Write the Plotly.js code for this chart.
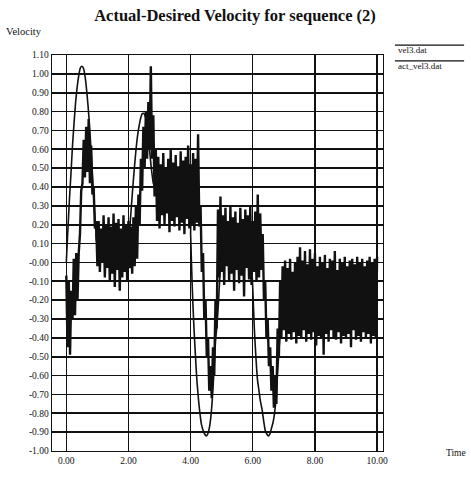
<!DOCTYPE html>
<html>
<head>
<meta charset="utf-8">
<script src="https://cdn.plot.ly/plotly-3.0.1.min.js"></script>
<style>html,body{margin:0;padding:0;background:#fff;}#chart{width:471px;height:477px;}</style>
</head>
<body>
<div id="chart"></div>
<script>
// Desired velocity (vel3.dat): time / value pairs
var desiredTime = [0, 0.05, 0.1, 0.15, 0.2, 0.25, 0.3, 0.35, 0.4, 0.45, 0.5, 0.55, 0.6, 0.65, 0.7, 0.75, 0.8, 0.85, 0.9, 0.95, 1.0,
  2.0, 2.05, 2.1, 2.15, 2.2, 2.25, 2.3, 2.35, 2.4, 2.45, 2.5, 2.55, 2.6, 2.65, 2.7, 2.75, 2.8, 2.85,
  3.95, 4.0, 4.05, 4.1, 4.15, 4.2, 4.25, 4.3, 4.35, 4.4, 4.45, 4.5, 4.55, 4.6, 4.65, 4.7, 4.75, 4.8, 4.85, 4.9, 4.95, 5.0, 5.05,
  5.9, 5.95, 6.0, 6.05, 6.1, 6.15, 6.2, 6.25, 6.3, 6.35, 6.4, 6.45, 6.5, 6.55, 6.6, 6.65, 6.7, 6.75, 6.8, 6.85, 6.9, 6.95, 7.0, 10.0];
var desiredVel = [0.0, 0.17, 0.33, 0.47, 0.62, 0.74, 0.85, 0.93, 0.99, 1.03, 1.04, 1.03, 0.99, 0.92, 0.83, 0.72, 0.58, 0.44, 0.30, 0.17, 0.10,
  0.10, 0.20, 0.31, 0.42, 0.52, 0.61, 0.68, 0.73, 0.77, 0.79, 0.79, 0.77, 0.72, 0.65, 0.56, 0.48, 0.42, 0.40,
  0.40, 0.15, -0.12, -0.32, -0.48, -0.62, -0.72, -0.80, -0.86, -0.89, -0.91, -0.92, -0.91, -0.88, -0.82, -0.72, -0.58, -0.42, -0.33, -0.20, -0.05, 0.06, 0.10,
  0.10, 0.02, -0.14, -0.35, -0.50, -0.62, -0.68, -0.74, -0.78, -0.84, -0.89, -0.91, -0.92, -0.91, -0.88, -0.85, -0.80, -0.72, -0.58, -0.45, -0.33, -0.24, -0.20, -0.20];

// Actual velocity (act_vel3.dat): one sample every 0.04 s
var actualStep = 0.04;
var actualVel = [
  -0.07, -0.45, -0.10, -0.49, -0.15, -0.30, 0.02, -0.28, 0.05, -0.20,
  0.05, 0.15, 0.38, 0.42, 0.65, 0.45, 0.72, 0.48, 0.76, 0.42,
  0.62, 0.36, 0.40, 0.18, 0.22, -0.02, 0.22, -0.05, 0.18, 0.00,
  0.25, -0.08, 0.20, -0.03, 0.24, -0.10, 0.19, -0.06, 0.26, -0.13,
  0.21, -0.04, 0.23, -0.15, 0.18, -0.08, 0.25, -0.05, 0.20, -0.10,
  0.22, -0.03, 0.19, -0.06, 0.24, -0.02, 0.30, 0.02, 0.36, 0.20,
  0.55, 0.38, 0.72, 0.50, 0.80, 0.55, 0.85, 0.60, 1.04, 0.55,
  0.78, 0.35, 0.60, 0.22, 0.56, 0.18, 0.52, 0.25, 0.58, 0.20,
  0.50, 0.26, 0.55, 0.16, 0.60, 0.22, 0.53, 0.19, 0.57, 0.24,
  0.51, 0.17, 0.59, 0.21, 0.54, 0.15, 0.56, 0.23, 0.62, 0.18,
  0.52, 0.20, 0.58, 0.17, 0.55, 0.21, 0.68, 0.19, 0.30, -0.05,
  0.05, -0.30, -0.20, -0.50, -0.40, -0.68, -0.55, -0.72, -0.45, -0.60,
  -0.20, -0.35, 0.28, -0.08, 0.35, -0.05, 0.25, -0.12, 0.29, -0.02,
  0.22, -0.10, 0.30, -0.06, 0.24, -0.15, 0.27, -0.04, 0.21, -0.11,
  0.29, -0.07, 0.23, -0.18, 0.28, -0.03, 0.25, -0.09, 0.30, -0.12,
  0.22, -0.05, 0.27, -0.10, 0.36, -0.08, 0.26, -0.04, 0.15, -0.20,
  -0.10, -0.40, -0.30, -0.55, -0.45, -0.68, -0.55, -0.77, -0.60, -0.75,
  -0.35, -0.50, -0.10, -0.40, -0.02, -0.36, 0.01, -0.42, -0.03, -0.38,
  0.02, -0.41, -0.05, -0.37, 0.00, -0.43, 0.03, -0.39, 0.08, -0.40,
  0.01, -0.36, 0.06, -0.42, -0.01, -0.38, 0.07, -0.41, 0.02, -0.37,
  0.05, -0.44, -0.02, -0.39, 0.03, -0.40, 0.00, -0.49, 0.04, -0.38,
  -0.03, -0.42, 0.02, -0.36, 0.01, -0.40, 0.06, -0.41, -0.04, -0.37,
  0.02, -0.43, 0.00, -0.39, 0.03, -0.40, -0.02, -0.38, 0.01, -0.45,
  0.02, -0.36, -0.01, -0.41, 0.03, -0.39, 0.00, -0.42, 0.02, -0.37,
  -0.02, -0.40, 0.01, -0.38, 0.03, -0.43, 0.00, -0.39, 0.02, -0.40,
  0.03];

var xTickVals = [0, 2, 4, 6, 8, 10];
var xTickText = ["0.00", "2.00", "4.00", "6.00", "8.00", "10.00"];
var yTickVals = [1.1, 1.0, 0.9, 0.8, 0.7, 0.6, 0.5, 0.4, 0.3, 0.2, 0.1, 0.0, -0.1, -0.2, -0.3, -0.4, -0.5, -0.6, -0.7, -0.8, -0.9, -1.0];
var yTickText = ["1.10", "1.00", "0.90", "0.80", "0.70", "0.60", "0.50", "0.40", "0.30", "0.20", "0.10", "-0.00", "-0.10", "-0.20", "-0.30", "-0.40", "-0.50", "-0.60", "-0.70", "-0.80", "-0.90", "-1.00"];
var seriesNames = ["vel3.dat", "act_vel3.dat"];

var actualTime = actualVel.map(function (v, i) { return +(i * actualStep).toFixed(2); });

var font = "Liberation Serif, Times New Roman, serif";

var traces = [
  { x: actualTime, y: actualVel, type: "scatter", mode: "lines", name: seriesNames[1],
    line: { color: "#111", width: 2.4 } },
  { x: desiredTime, y: desiredVel, type: "scatter", mode: "lines", name: seriesNames[0],
    line: { color: "#111", width: 1.6, shape: "spline", smoothing: 0.6 } }
];

var layout = {
  width: 471, height: 477,
  margin: { l: 52, r: 88, t: 55, b: 26 },
  paper_bgcolor: "#fff", plot_bgcolor: "#fff",
  showlegend: false,
  title: { text: "<b>Actual-Desired Velocity for sequence (2)</b>", x: 0.499, xref: "container", xanchor: "center",
    y: 0.968, yref: "container", yanchor: "middle", font: { family: font, size: 16.5, color: "#111" } },
  xaxis: { range: [-0.46, 10.19], tickvals: xTickVals, ticktext: xTickText, showgrid: true, gridcolor: "#111", gridwidth: 1.4,
    zeroline: false, showline: true, mirror: true, linecolor: "#111", linewidth: 1.4, ticks: "",
    tickfont: { family: font, size: 9.5, color: "#111" } },
  yaxis: { range: [-1.0, 1.1], tickvals: yTickVals, ticktext: yTickText, showgrid: true, gridcolor: "#111", gridwidth: 1.8,
    zeroline: false, showline: true, mirror: true, linecolor: "#111", linewidth: 1.4, ticks: "",
    tickfont: { family: font, size: 9.5, color: "#111" } },
  shapes: [
    { type: "line", xref: "paper", yref: "paper", x0: 1.036, x1: 1.245, y0: 1.025, y1: 1.025, line: { color: "#111", width: 1.2 } },
    { type: "line", xref: "paper", yref: "paper", x0: 1.036, x1: 1.245, y0: 0.985, y1: 0.985, line: { color: "#111", width: 1.2 } }
  ],
  annotations: [
    { text: seriesNames[0], xref: "paper", yref: "paper", x: 1.038, y: 1.012, xanchor: "left", yanchor: "middle", showarrow: false,
      font: { family: font, size: 9, color: "#111" } },
    { text: seriesNames[1], xref: "paper", yref: "paper", x: 1.038, y: 0.971, xanchor: "left", yanchor: "middle", showarrow: false,
      font: { family: font, size: 9, color: "#111" } },
    { text: "Velocity", xref: "paper", yref: "paper", x: -0.145, y: 1.06, xanchor: "left", yanchor: "middle", showarrow: false,
      font: { family: font, size: 10.5, color: "#111" } },
    { text: "Time", xref: "paper", yref: "paper", x: 1.185, y: -0.004, xanchor: "left", yanchor: "middle", showarrow: false,
      font: { family: font, size: 9.5, color: "#111" } }
  ]
};

Plotly.newPlot("chart", traces, layout, { staticPlot: true, displayModeBar: false });
</script>
</body>
</html>
